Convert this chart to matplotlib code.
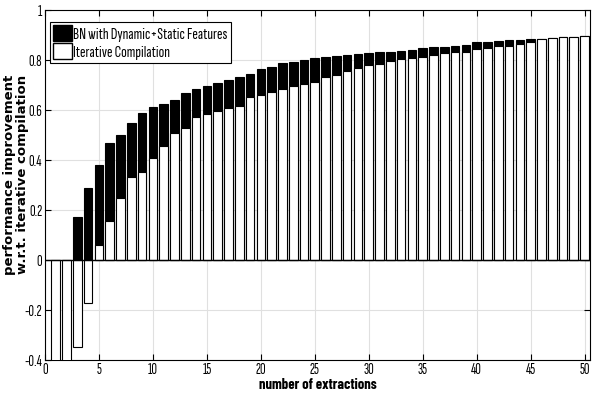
#Bar chart of performance improvement vs number of extractions
import numpy as np
import matplotlib
matplotlib.use('Agg')
import matplotlib.pyplot as plt
from matplotlib.patches import Patch

narrow = ['Roboto Condensed', 'DejaVu Sans']
extra_narrow = ['Sofia Sans Extra Condensed', 'Barlow Condensed', 'Roboto Condensed', 'DejaVu Sans']
bold_narrow = ['Barlow Condensed', 'Roboto Condensed', 'DejaVu Sans']
matplotlib.rcParams['font.family'] = narrow
matplotlib.rcParams['xtick.direction'] = 'in'
matplotlib.rcParams['ytick.direction'] = 'in'

extractions = np.arange(1, 51)

# BN with Dynamic+Static Features
bn_values = [0.0, 0.0, 0.173, 0.29, 0.38, 0.467, 0.499, 0.547, 0.587, 0.611,
             0.625, 0.64, 0.667, 0.683, 0.696, 0.707, 0.72, 0.731, 0.744, 0.765,
             0.773, 0.787, 0.792, 0.801, 0.807, 0.812, 0.817, 0.82, 0.824, 0.828,
             0.831, 0.833, 0.837, 0.84, 0.847, 0.851, 0.853, 0.857, 0.86, 0.871,
             0.873, 0.877, 0.879, 0.881, 0.883, 0.884, 0.887, 0.891, 0.893, 0.897]

# Iterative Compilation
iter_values = [-0.45, -0.45, -0.347, -0.17, 0.06, 0.157, 0.247, 0.331, 0.352, 0.408,
               0.456, 0.507, 0.528, 0.573, 0.584, 0.597, 0.607, 0.617, 0.651, 0.66,
               0.671, 0.683, 0.696, 0.704, 0.712, 0.733, 0.739, 0.756, 0.767, 0.779,
               0.783, 0.795, 0.805, 0.807, 0.812, 0.82, 0.827, 0.831, 0.833, 0.843,
               0.847, 0.855, 0.857, 0.865, 0.871, 0.884, 0.887, 0.891, 0.893, 0.897]

fig = plt.figure(figsize=(5.92, 4), dpi=100)
ax = fig.add_axes([0.076, 0.1, 0.9206, 0.875])

ax.bar(extractions, bn_values, width=0.8, color='black', edgecolor='black', linewidth=0.8, zorder=2)
ax.bar(extractions, iter_values, width=0.8, color='white', edgecolor='black', linewidth=0.8, zorder=3)
ax.axhline(0, color='black', linewidth=1, zorder=4)

ax.set_xlim([0, 50.5])
ax.set_ylim([-0.4, 1])
ax.set_xticks(np.arange(0, 51, 5))
ax.set_yticks(np.arange(-0.4, 1.01, 0.2))
ax.set_yticklabels(['-0.4', '-0.2', '0', '0.2', '0.4', '0.6', '0.8', '1'])
ax.tick_params(labelsize=11, top=True, right=True, length=4, width=0.8, pad=2)
for lab in ax.get_xticklabels() + ax.get_yticklabels():
    lab.set_family(extra_narrow)
ax.grid(True, color='#e0e0e0', linewidth=0.8, zorder=0)
ax.set_axisbelow(True)
for sp in ax.spines.values():
    sp.set_linewidth(0.8)

ax.set_xlabel('number of extractions', fontsize=10.5, fontweight='bold',
              family=bold_narrow, labelpad=1)
ax.set_ylabel('performance improvement\nw.r.t. iterative compilation', fontsize=9.5,
              fontweight='bold', family='DejaVu Sans', linespacing=0.95)
ax.yaxis.set_label_coords(-0.03, 0.53)

handles = [Patch(facecolor='black', edgecolor='black'),
           Patch(facecolor='white', edgecolor='black')]
leg = ax.legend(handles, ['BN with Dynamic+Static Features', 'Iterative Compilation'],
                loc='upper left', bbox_to_anchor=(0.0, 0.98),
                prop={'family': extra_narrow, 'size': 12},
                fancybox=False, framealpha=1,
                edgecolor='black', handlelength=1.1, handleheight=1.1,
                handletextpad=0.1, borderpad=0.2, labelspacing=0.05,
                borderaxespad=0.3)
leg.get_frame().set_linewidth(0.8)
leg.set_zorder(10)

plt.savefig('out.png', dpi=100)
